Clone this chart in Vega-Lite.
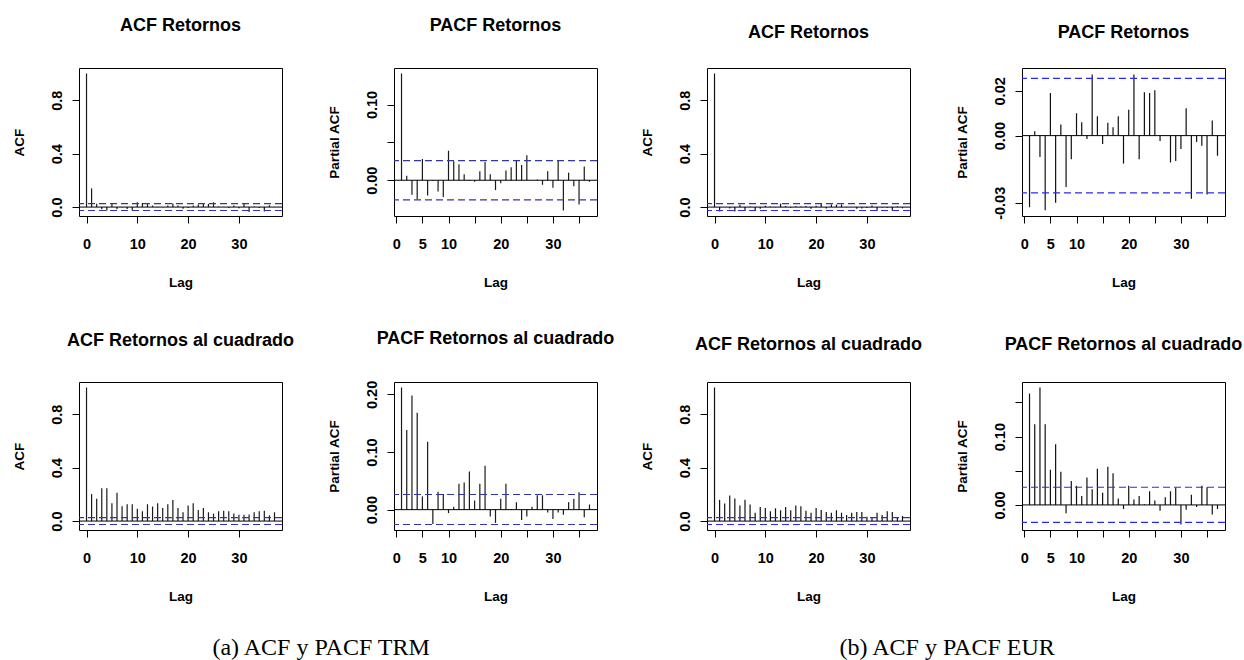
{
  "$schema": "https://vega.github.io/schema/vega-lite/v6.json",
  "background": "white",
  "padding": {"left": 11, "top": 16, "right": 0, "bottom": 0},
  "config": {
    "view": {"stroke": "black", "strokeWidth": 1},
    "font": "Liberation Sans",
    "title": {"font": "Liberation Sans", "fontSize": 18, "fontWeight": "bold", "color": "black", "anchor": "middle"},
    "axis": {"domain": false, "grid": false, "tickColor": "black", "tickSize": 7, "tickWidth": 1,
      "labelFont": "Liberation Sans", "labelFontSize": 14.5, "labelFontWeight": "bold", "labelColor": "black",
      "labelOverlap": false, "labelFlush": false, "labelBound": false,
      "titleFont": "Liberation Sans", "titleFontSize": 13.5, "titleFontWeight": "bold", "titleColor": "black"},
    "axisX": {"labelPadding": 14, "titlePadding": 25, "labelOverlap": false},
    "axisY": {"labelAngle": -90, "labelAlign": "center", "labelBaseline": "bottom", "labelPadding": 8, "titlePadding": 23, "labelOverlap": false}
  },
  "datasets": {
    "trm_acf": [
      {"lag": 0, "value": 1}, {"lag": 1, "value": 0.14}, {"lag": 2, "value": 0.025}, {"lag": 3, "value": -0.017}, {"lag": 4, "value": -0.027}, {"lag": 5, "value": 0.024}, {"lag": 6, "value": -0.016}, {"lag": 7, "value": -0.003}, {"lag": 8, "value": -0.015}, {"lag": 9, "value": -0.024}, {"lag": 10, "value": 0.036}, {"lag": 11, "value": 0.030}, {"lag": 12, "value": 0.024}, {"lag": 13, "value": 0.011}, {"lag": 14, "value": -0.001}, {"lag": 15, "value": -0.002}, {"lag": 16, "value": 0.012}, {"lag": 17, "value": 0.026}, {"lag": 18, "value": 0.011}, {"lag": 19, "value": -0.012}, {"lag": 20, "value": -0.006}, {"lag": 21, "value": 0.012}, {"lag": 22, "value": 0.019}, {"lag": 23, "value": 0.028}, {"lag": 24, "value": 0.024}, {"lag": 25, "value": 0.036}, {"lag": 26, "value": 0.005}, {"lag": 27, "value": 0.001}, {"lag": 28, "value": -0.006}, {"lag": 29, "value": 0.011}, {"lag": 30, "value": -0.008}, {"lag": 31, "value": 0.024}, {"lag": 32, "value": -0.036}, {"lag": 33, "value": 0.004}, {"lag": 34, "value": -0.007}, {"lag": 35, "value": -0.033}, {"lag": 36, "value": 0.014}, {"lag": 37, "value": 0.001}
    ],
    "trm_pacf": [
      {"lag": 1, "value": 0.141}, {"lag": 2, "value": 0.006}, {"lag": 3, "value": -0.019}, {"lag": 4, "value": -0.025}, {"lag": 5, "value": 0.028}, {"lag": 6, "value": -0.020}, {"lag": 7, "value": -0.001}, {"lag": 8, "value": -0.015}, {"lag": 9, "value": -0.022}, {"lag": 10, "value": 0.039}, {"lag": 11, "value": 0.025}, {"lag": 12, "value": 0.021}, {"lag": 13, "value": 0.008}, {"lag": 14, "value": -0.001}, {"lag": 15, "value": -0.002}, {"lag": 16, "value": 0.012}, {"lag": 17, "value": 0.024}, {"lag": 18, "value": 0.008}, {"lag": 19, "value": -0.013}, {"lag": 20, "value": -0.004}, {"lag": 21, "value": 0.013}, {"lag": 22, "value": 0.017}, {"lag": 23, "value": 0.026}, {"lag": 24, "value": 0.020}, {"lag": 25, "value": 0.033}, {"lag": 26, "value": 0.0}, {"lag": 27, "value": 0.001}, {"lag": 28, "value": -0.006}, {"lag": 29, "value": 0.012}, {"lag": 30, "value": -0.010}, {"lag": 31, "value": 0.026}, {"lag": 32, "value": -0.040}, {"lag": 33, "value": 0.010}, {"lag": 34, "value": -0.008}, {"lag": 35, "value": -0.032}, {"lag": 36, "value": 0.018}, {"lag": 37, "value": -0.002}
    ],
    "eur_acf": [
      {"lag": 0, "value": 1}, {"lag": 1, "value": -0.032}, {"lag": 2, "value": 0.001}, {"lag": 3, "value": -0.010}, {"lag": 4, "value": -0.033}, {"lag": 5, "value": 0.017}, {"lag": 6, "value": -0.029}, {"lag": 7, "value": 0.004}, {"lag": 8, "value": -0.021}, {"lag": 9, "value": -0.012}, {"lag": 10, "value": 0.010}, {"lag": 11, "value": 0.005}, {"lag": 12, "value": -0.002}, {"lag": 13, "value": 0.026}, {"lag": 14, "value": 0.009}, {"lag": 15, "value": -0.004}, {"lag": 16, "value": 0.006}, {"lag": 17, "value": 0.004}, {"lag": 18, "value": 0.008}, {"lag": 19, "value": -0.012}, {"lag": 20, "value": 0.011}, {"lag": 21, "value": 0.026}, {"lag": 22, "value": -0.010}, {"lag": 23, "value": 0.019}, {"lag": 24, "value": 0.019}, {"lag": 25, "value": 0.020}, {"lag": 26, "value": -0.002}, {"lag": 27, "value": 0.0}, {"lag": 28, "value": -0.012}, {"lag": 29, "value": -0.011}, {"lag": 30, "value": -0.006}, {"lag": 31, "value": 0.012}, {"lag": 32, "value": -0.027}, {"lag": 33, "value": -0.003}, {"lag": 34, "value": -0.005}, {"lag": 35, "value": -0.025}, {"lag": 36, "value": 0.006}, {"lag": 37, "value": -0.009}
    ],
    "eur_pacf": [
      {"lag": 1, "value": -0.032}, {"lag": 2, "value": 0.002}, {"lag": 3, "value": -0.0096}, {"lag": 4, "value": -0.0333}, {"lag": 5, "value": 0.019}, {"lag": 6, "value": -0.030}, {"lag": 7, "value": 0.005}, {"lag": 8, "value": -0.023}, {"lag": 9, "value": -0.0106}, {"lag": 10, "value": 0.010}, {"lag": 11, "value": 0.006}, {"lag": 12, "value": -0.0015}, {"lag": 13, "value": 0.0273}, {"lag": 14, "value": 0.0087}, {"lag": 15, "value": -0.0037}, {"lag": 16, "value": 0.0057}, {"lag": 17, "value": 0.0037}, {"lag": 18, "value": 0.0087}, {"lag": 19, "value": -0.0125}, {"lag": 20, "value": 0.0116}, {"lag": 21, "value": 0.0273}, {"lag": 22, "value": -0.0106}, {"lag": 23, "value": 0.0194}, {"lag": 24, "value": 0.019}, {"lag": 25, "value": 0.0203}, {"lag": 26, "value": -0.0024}, {"lag": 27, "value": 0.0003}, {"lag": 28, "value": -0.012}, {"lag": 29, "value": -0.0113}, {"lag": 30, "value": -0.006}, {"lag": 31, "value": 0.0122}, {"lag": 32, "value": -0.0282}, {"lag": 33, "value": -0.0028}, {"lag": 34, "value": -0.0045}, {"lag": 35, "value": -0.0263}, {"lag": 36, "value": 0.0067}, {"lag": 37, "value": -0.009}
    ],
    "trm_acf2": [
      {"lag": 0, "value": 1}, {"lag": 1, "value": 0.202}, {"lag": 2, "value": 0.167}, {"lag": 3, "value": 0.245}, {"lag": 4, "value": 0.245}, {"lag": 5, "value": 0.134}, {"lag": 6, "value": 0.212}, {"lag": 7, "value": 0.111}, {"lag": 8, "value": 0.126}, {"lag": 9, "value": 0.126}, {"lag": 10, "value": 0.093}, {"lag": 11, "value": 0.073}, {"lag": 12, "value": 0.126}, {"lag": 13, "value": 0.109}, {"lag": 14, "value": 0.134}, {"lag": 15, "value": 0.098}, {"lag": 16, "value": 0.126}, {"lag": 17, "value": 0.157}, {"lag": 18, "value": 0.098}, {"lag": 19, "value": 0.066}, {"lag": 20, "value": 0.116}, {"lag": 21, "value": 0.134}, {"lag": 22, "value": 0.083}, {"lag": 23, "value": 0.098}, {"lag": 24, "value": 0.066}, {"lag": 25, "value": 0.056}, {"lag": 26, "value": 0.073}, {"lag": 27, "value": 0.078}, {"lag": 28, "value": 0.073}, {"lag": 29, "value": 0.056}, {"lag": 30, "value": 0.048}, {"lag": 31, "value": 0.048}, {"lag": 32, "value": 0.050}, {"lag": 33, "value": 0.066}, {"lag": 34, "value": 0.073}, {"lag": 35, "value": 0.078}, {"lag": 36, "value": 0.043}, {"lag": 37, "value": 0.066}
    ],
    "trm_pacf2": [
      {"lag": 1, "value": 0.212}, {"lag": 2, "value": 0.138}, {"lag": 3, "value": 0.198}, {"lag": 4, "value": 0.168}, {"lag": 5, "value": 0.023}, {"lag": 6, "value": 0.118}, {"lag": 7, "value": -0.025}, {"lag": 8, "value": 0.031}, {"lag": 9, "value": 0.027}, {"lag": 10, "value": -0.006}, {"lag": 11, "value": 0.005}, {"lag": 12, "value": 0.045}, {"lag": 13, "value": 0.047}, {"lag": 14, "value": 0.066}, {"lag": 15, "value": 0.016}, {"lag": 16, "value": 0.045}, {"lag": 17, "value": 0.076}, {"lag": 18, "value": -0.012}, {"lag": 19, "value": -0.023}, {"lag": 20, "value": 0.019}, {"lag": 21, "value": 0.045}, {"lag": 22, "value": 0.001}, {"lag": 23, "value": 0.013}, {"lag": 24, "value": -0.018}, {"lag": 25, "value": -0.012}, {"lag": 26, "value": 0.005}, {"lag": 27, "value": 0.025}, {"lag": 28, "value": 0.025}, {"lag": 29, "value": -0.005}, {"lag": 30, "value": -0.016}, {"lag": 31, "value": -0.005}, {"lag": 32, "value": -0.009}, {"lag": 33, "value": 0.013}, {"lag": 34, "value": 0.019}, {"lag": 35, "value": 0.030}, {"lag": 36, "value": -0.013}, {"lag": 37, "value": 0.009}
    ],
    "eur_acf2": [
      {"lag": 0, "value": 1}, {"lag": 1, "value": 0.159}, {"lag": 2, "value": 0.131}, {"lag": 3, "value": 0.192}, {"lag": 4, "value": 0.169}, {"lag": 5, "value": 0.116}, {"lag": 6, "value": 0.159}, {"lag": 7, "value": 0.124}, {"lag": 8, "value": 0.063}, {"lag": 9, "value": 0.106}, {"lag": 10, "value": 0.098}, {"lag": 11, "value": 0.073}, {"lag": 12, "value": 0.096}, {"lag": 13, "value": 0.081}, {"lag": 14, "value": 0.106}, {"lag": 15, "value": 0.081}, {"lag": 16, "value": 0.116}, {"lag": 17, "value": 0.111}, {"lag": 18, "value": 0.078}, {"lag": 19, "value": 0.063}, {"lag": 20, "value": 0.098}, {"lag": 21, "value": 0.083}, {"lag": 22, "value": 0.068}, {"lag": 23, "value": 0.063}, {"lag": 24, "value": 0.081}, {"lag": 25, "value": 0.063}, {"lag": 26, "value": 0.045}, {"lag": 27, "value": 0.063}, {"lag": 28, "value": 0.068}, {"lag": 29, "value": 0.068}, {"lag": 30, "value": 0.033}, {"lag": 31, "value": 0.030}, {"lag": 32, "value": 0.063}, {"lag": 33, "value": 0.045}, {"lag": 34, "value": 0.073}, {"lag": 35, "value": 0.068}, {"lag": 36, "value": 0.030}, {"lag": 37, "value": 0.038}
    ],
    "eur_pacf2": [
      {"lag": 1, "value": 0.163}, {"lag": 2, "value": 0.118}, {"lag": 3, "value": 0.172}, {"lag": 4, "value": 0.118}, {"lag": 5, "value": 0.0515}, {"lag": 6, "value": 0.089}, {"lag": 7, "value": 0.0485}, {"lag": 8, "value": -0.012}, {"lag": 9, "value": 0.035}, {"lag": 10, "value": 0.028}, {"lag": 11, "value": 0.013}, {"lag": 12, "value": 0.040}, {"lag": 13, "value": 0.023}, {"lag": 14, "value": 0.053}, {"lag": 15, "value": 0.018}, {"lag": 16, "value": 0.056}, {"lag": 17, "value": 0.0465}, {"lag": 18, "value": 0.0094}, {"lag": 19, "value": -0.006}, {"lag": 20, "value": 0.028}, {"lag": 21, "value": 0.008}, {"lag": 22, "value": 0.013}, {"lag": 23, "value": 0.001}, {"lag": 24, "value": 0.020}, {"lag": 25, "value": 0.0064}, {"lag": 26, "value": -0.0084}, {"lag": 27, "value": 0.0114}, {"lag": 28, "value": 0.020}, {"lag": 29, "value": 0.025}, {"lag": 30, "value": -0.0287}, {"lag": 31, "value": -0.007}, {"lag": 32, "value": 0.015}, {"lag": 33, "value": -0.003}, {"lag": 34, "value": 0.028}, {"lag": 35, "value": 0.026}, {"lag": 36, "value": -0.014}, {"lag": 37, "value": -0.006}
    ]
  },
  "spacing": 24,
  "hconcat": [
    {
      "concat": [
        {
          "width": 203, "height": 148,
          "title": {"text": "ACF Retornos", "frame": "group", "offset": 33},
          "layer": [
            {"data": {"name": "trm_acf"}, "mark": {"type": "rule", "color": "#1a1a1a", "strokeWidth": 1.2},
             "encoding": {
               "x": {"field": "lag", "type": "quantitative", "scale": {"domain": [-1.48, 38.48], "nice": false, "zero": false}, "axis": {"title": "Lag", "values": [0, 10, 20, 30], "labelOverlap": false}},
               "y": {"field": "value", "type": "quantitative", "scale": {"domain": [-0.0668, 1.0413], "nice": false, "zero": false}, "axis": {"title": "ACF", "values": [0, 0.2, 0.4, 0.6, 0.8, 1], "labelOverlap": false, "labelExpr": "abs(datum.value) < 0.05 ? '0.0' : abs(datum.value - 0.4) < 0.05 ? '0.4' : abs(datum.value - 0.8) < 0.05 ? '0.8' : ''"}},
               "y2": {"datum": 0}}},
            {"data": {"values": [{}]}, "mark": {"type": "rule", "color": "black", "strokeWidth": 1}, "encoding": {"y": {"datum": 0}}},
            {"data": {"values": [{}]}, "mark": {"type": "rule", "color": "#3434a8", "strokeDash": [7, 4], "strokeWidth": 1.2}, "encoding": {"y": {"datum": 0.0258}}},
            {"data": {"values": [{}]}, "mark": {"type": "rule", "color": "#3434a8", "strokeDash": [7, 4], "strokeWidth": 1.2}, "encoding": {"y": {"datum": -0.0258}}}
          ]
        },
        {
          "width": 203, "height": 148,
          "title": {"text": "PACF Retornos", "frame": "group", "offset": 33},
          "layer": [
            {"data": {"name": "trm_pacf"}, "mark": {"type": "rule", "color": "#1a1a1a", "strokeWidth": 1.2},
             "encoding": {
               "x": {"field": "lag", "type": "quantitative", "scale": {"domain": [-0.44, 38.44], "nice": false, "zero": false}, "axis": {"title": "Lag", "values": [0, 5, 10, 15, 20, 25, 30, 35], "labelOverlap": false, "labelExpr": "datum.value == 15 || datum.value == 25 || datum.value == 35 ? '' : datum.label"}},
               "y": {"field": "value", "type": "quantitative", "scale": {"domain": [-0.0472, 0.1482], "nice": false, "zero": false}, "axis": {"title": "Partial ACF", "values": [0, 0.05, 0.1], "labelOverlap": false, "labelExpr": "abs(datum.value) < 0.005 ? '0.00' : abs(datum.value - 0.1) < 0.005 ? '0.10' : ''"}},
               "y2": {"datum": 0}}},
            {"data": {"values": [{}]}, "mark": {"type": "rule", "color": "black", "strokeWidth": 1}, "encoding": {"y": {"datum": 0}}},
            {"data": {"values": [{}]}, "mark": {"type": "rule", "color": "#3434a8", "strokeDash": [7, 4], "strokeWidth": 1.2}, "encoding": {"y": {"datum": 0.0258}}},
            {"data": {"values": [{}]}, "mark": {"type": "rule", "color": "#3434a8", "strokeDash": [7, 4], "strokeWidth": 1.2}, "encoding": {"y": {"datum": -0.0258}}}
          ]
        },
        {
          "width": 203, "height": 148,
          "title": {"text": "ACF Retornos al cuadrado", "frame": "group", "offset": 32},
          "layer": [
            {"data": {"name": "trm_acf2"}, "mark": {"type": "rule", "color": "#1a1a1a", "strokeWidth": 1.2},
             "encoding": {
               "x": {"field": "lag", "type": "quantitative", "scale": {"domain": [-1.48, 38.48], "nice": false, "zero": false}, "axis": {"title": "Lag", "values": [0, 10, 20, 30], "labelOverlap": false}},
               "y": {"field": "value", "type": "quantitative", "scale": {"domain": [-0.0668, 1.0413], "nice": false, "zero": false}, "axis": {"title": "ACF", "values": [0, 0.2, 0.4, 0.6, 0.8, 1], "labelOverlap": false, "labelExpr": "abs(datum.value) < 0.05 ? '0.0' : abs(datum.value - 0.4) < 0.05 ? '0.4' : abs(datum.value - 0.8) < 0.05 ? '0.8' : ''"}},
               "y2": {"datum": 0}}},
            {"data": {"values": [{}]}, "mark": {"type": "rule", "color": "black", "strokeWidth": 1}, "encoding": {"y": {"datum": 0}}},
            {"data": {"values": [{}]}, "mark": {"type": "rule", "color": "#3434a8", "strokeDash": [7, 4], "strokeWidth": 1.2}, "encoding": {"y": {"datum": 0.0258}}},
            {"data": {"values": [{}]}, "mark": {"type": "rule", "color": "#3434a8", "strokeDash": [7, 4], "strokeWidth": 1.2}, "encoding": {"y": {"datum": -0.0258}}}
          ]
        },
        {
          "width": 203, "height": 148,
          "title": {"text": "PACF Retornos al cuadrado", "frame": "group", "offset": 32},
          "layer": [
            {"data": {"name": "trm_pacf2"}, "mark": {"type": "rule", "color": "#1a1a1a", "strokeWidth": 1.2},
             "encoding": {
               "x": {"field": "lag", "type": "quantitative", "scale": {"domain": [-0.44, 38.44], "nice": false, "zero": false}, "axis": {"title": "Lag", "values": [0, 5, 10, 15, 20, 25, 30, 35], "labelOverlap": false, "labelExpr": "datum.value == 15 || datum.value == 25 || datum.value == 35 ? '' : datum.label"}},
               "y": {"field": "value", "type": "quantitative", "scale": {"domain": [-0.0353, 0.2215], "nice": false, "zero": false}, "axis": {"title": "Partial ACF", "values": [0, 0.05, 0.1, 0.15, 0.2], "labelOverlap": false, "labelExpr": "abs(datum.value) < 0.005 ? '0.00' : abs(datum.value - 0.1) < 0.005 ? '0.10' : abs(datum.value - 0.2) < 0.005 ? '0.20' : ''"}},
               "y2": {"datum": 0}}},
            {"data": {"values": [{}]}, "mark": {"type": "rule", "color": "black", "strokeWidth": 1}, "encoding": {"y": {"datum": 0}}},
            {"data": {"values": [{}]}, "mark": {"type": "rule", "color": "#3434a8", "strokeDash": [7, 4], "strokeWidth": 1.2}, "encoding": {"y": {"datum": 0.0263}}},
            {"data": {"values": [{}]}, "mark": {"type": "rule", "color": "#3434a8", "strokeDash": [7, 4], "strokeWidth": 1.2}, "encoding": {"y": {"datum": -0.0258}}}
          ]
        }
      ],
      "columns": 2,
      "bounds": "flush",
      "spacing": {"row": 166, "column": 112},
      "title": {"text": "(a) ACF y PACF TRM", "orient": "bottom", "anchor": "middle", "font": "Liberation Serif", "fontSize": 24, "fontWeight": "normal", "color": "black", "offset": 32, "dx": 8}
    },
    {
      "concat": [
        {
          "width": 203, "height": 148,
          "title": {"text": "ACF Retornos", "frame": "group", "offset": 26},
          "layer": [
            {"data": {"name": "eur_acf"}, "mark": {"type": "rule", "color": "#111111", "strokeWidth": 1.2},
             "encoding": {
               "x": {"field": "lag", "type": "quantitative", "scale": {"domain": [-1.48, 38.48], "nice": false, "zero": false}, "axis": {"title": "Lag", "values": [0, 10, 20, 30], "labelOverlap": false}},
               "y": {"field": "value", "type": "quantitative", "scale": {"domain": [-0.0666, 1.0410], "nice": false, "zero": false}, "axis": {"title": "ACF", "values": [0, 0.2, 0.4, 0.6, 0.8, 1], "labelOverlap": false, "labelExpr": "abs(datum.value) < 0.05 ? '0.0' : abs(datum.value - 0.4) < 0.05 ? '0.4' : abs(datum.value - 0.8) < 0.05 ? '0.8' : ''"}},
               "y2": {"datum": 0}}},
            {"data": {"values": [{}]}, "mark": {"type": "rule", "color": "black", "strokeWidth": 1}, "encoding": {"y": {"datum": 0}}},
            {"data": {"values": [{}]}, "mark": {"type": "rule", "color": "#2a2af5", "strokeDash": [7, 4], "strokeWidth": 1.2}, "encoding": {"y": {"datum": 0.0256}}},
            {"data": {"values": [{}]}, "mark": {"type": "rule", "color": "#2a2af5", "strokeDash": [7, 4], "strokeWidth": 1.2}, "encoding": {"y": {"datum": -0.0256}}}
          ]
        },
        {
          "width": 203, "height": 148,
          "title": {"text": "PACF Retornos", "frame": "group", "offset": 26},
          "layer": [
            {"data": {"name": "eur_pacf"}, "mark": {"type": "rule", "color": "#111111", "strokeWidth": 1.2},
             "encoding": {
               "x": {"field": "lag", "type": "quantitative", "scale": {"domain": [-0.44, 38.44], "nice": false, "zero": false}, "axis": {"title": "Lag", "values": [0, 5, 10, 15, 20, 25, 30, 35], "labelOverlap": false, "labelExpr": "datum.value == 15 || datum.value == 25 || datum.value == 35 ? '' : datum.label"}},
               "y": {"field": "value", "type": "quantitative", "scale": {"domain": [-0.0359, 0.0302], "nice": false, "zero": false}, "axis": {"title": "Partial ACF", "values": [-0.03, 0, 0.02], "labelOverlap": false, "labelExpr": "datum.value > 0.015 ? '0.02' : datum.value < -0.025 ? '-0.03' : '0.00'"}},
               "y2": {"datum": 0}}},
            {"data": {"values": [{}]}, "mark": {"type": "rule", "color": "black", "strokeWidth": 1}, "encoding": {"y": {"datum": 0}}},
            {"data": {"values": [{}]}, "mark": {"type": "rule", "color": "#2a2af5", "strokeDash": [7, 4], "strokeWidth": 1.2}, "encoding": {"y": {"datum": 0.0256}}},
            {"data": {"values": [{}]}, "mark": {"type": "rule", "color": "#2a2af5", "strokeDash": [7, 4], "strokeWidth": 1.2}, "encoding": {"y": {"datum": -0.0256}}}
          ]
        },
        {
          "width": 203, "height": 148,
          "title": {"text": "ACF Retornos al cuadrado", "frame": "group", "offset": 28},
          "layer": [
            {"data": {"name": "eur_acf2"}, "mark": {"type": "rule", "color": "#111111", "strokeWidth": 1.2},
             "encoding": {
               "x": {"field": "lag", "type": "quantitative", "scale": {"domain": [-1.48, 38.48], "nice": false, "zero": false}, "axis": {"title": "Lag", "values": [0, 10, 20, 30], "labelOverlap": false}},
               "y": {"field": "value", "type": "quantitative", "scale": {"domain": [-0.0666, 1.0410], "nice": false, "zero": false}, "axis": {"title": "ACF", "values": [0, 0.2, 0.4, 0.6, 0.8, 1], "labelOverlap": false, "labelExpr": "abs(datum.value) < 0.05 ? '0.0' : abs(datum.value - 0.4) < 0.05 ? '0.4' : abs(datum.value - 0.8) < 0.05 ? '0.8' : ''"}},
               "y2": {"datum": 0}}},
            {"data": {"values": [{}]}, "mark": {"type": "rule", "color": "black", "strokeWidth": 1}, "encoding": {"y": {"datum": 0}}},
            {"data": {"values": [{}]}, "mark": {"type": "rule", "color": "#2a2af5", "strokeDash": [7, 4], "strokeWidth": 1.2}, "encoding": {"y": {"datum": 0.0256}}},
            {"data": {"values": [{}]}, "mark": {"type": "rule", "color": "#2a2af5", "strokeDash": [7, 4], "strokeWidth": 1.2}, "encoding": {"y": {"datum": -0.0256}}}
          ]
        },
        {
          "width": 203, "height": 148,
          "title": {"text": "PACF Retornos al cuadrado", "frame": "group", "offset": 28},
          "layer": [
            {"data": {"name": "eur_pacf2"}, "mark": {"type": "rule", "color": "#111111", "strokeWidth": 1.2},
             "encoding": {
               "x": {"field": "lag", "type": "quantitative", "scale": {"domain": [-0.44, 38.44], "nice": false, "zero": false}, "axis": {"title": "Lag", "values": [0, 5, 10, 15, 20, 25, 30, 35], "labelOverlap": false, "labelExpr": "datum.value == 15 || datum.value == 25 || datum.value == 35 ? '' : datum.label"}},
               "y": {"field": "value", "type": "quantitative", "scale": {"domain": [-0.0367, 0.1800], "nice": false, "zero": false}, "axis": {"title": "Partial ACF", "values": [0, 0.05, 0.1, 0.15], "labelOverlap": false, "labelExpr": "abs(datum.value) < 0.005 ? '0.00' : abs(datum.value - 0.1) < 0.005 ? '0.10' : ''"}},
               "y2": {"datum": 0}}},
            {"data": {"values": [{}]}, "mark": {"type": "rule", "color": "black", "strokeWidth": 1}, "encoding": {"y": {"datum": 0}}},
            {"data": {"values": [{}]}, "mark": {"type": "rule", "color": "#2a2af5", "strokeDash": [7, 4], "strokeWidth": 1.2}, "encoding": {"y": {"datum": 0.0259}}},
            {"data": {"values": [{}]}, "mark": {"type": "rule", "color": "#2a2af5", "strokeDash": [7, 4], "strokeWidth": 1.2}, "encoding": {"y": {"datum": -0.0256}}}
          ]
        }
      ],
      "columns": 2,
      "bounds": "flush",
      "spacing": {"row": 166, "column": 112},
      "title": {"text": "(b) ACF y PACF EUR", "orient": "bottom", "anchor": "middle", "font": "Liberation Serif", "fontSize": 24, "fontWeight": "normal", "color": "black", "offset": 32, "dx": 6}
    }
  ]
}
